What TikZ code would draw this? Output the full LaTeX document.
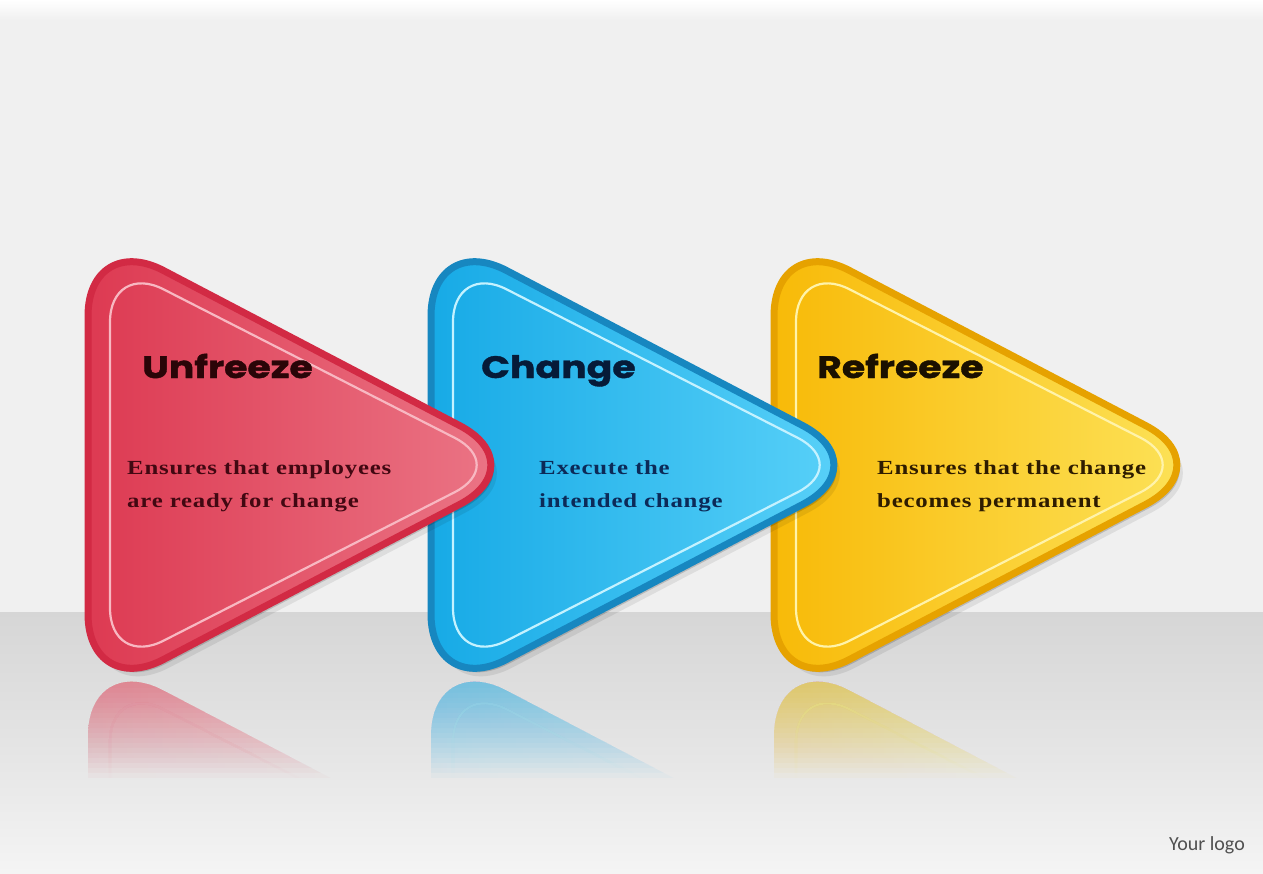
\documentclass[tikz,border=0pt]{standalone}
\usepackage{fontspec}
\setmainfont{Liberation Serif}
\newfontfamily\headfont{Poppins}[FakeStretch=1.22, FakeBold=1.2]
\newfontfamily\descfont{Liberation Serif}[FakeStretch=1.24, LetterSpace=4]
\newfontfamily\logofont{Carlito}
\definecolor{bgmain}{HTML}{F0F0F0}
\definecolor{floorA}{HTML}{D6D6D6}
\definecolor{floorM}{HTML}{E4E4E4}
\definecolor{floorB}{HTML}{F4F4F4}
\definecolor{redR}{HTML}{D22A44}
\definecolor{redA}{HTML}{DD3A52}
\definecolor{redB}{HTML}{EC7A8A}
\definecolor{redL}{HTML}{F8B8C2}
\definecolor{bluR}{HTML}{1787C0}
\definecolor{bluA}{HTML}{17AAE6}
\definecolor{bluB}{HTML}{5ED4FA}
\definecolor{bluL}{HTML}{C4F2FF}
\definecolor{yelR}{HTML}{E6A200}
\definecolor{yelA}{HTML}{F8BA08}
\definecolor{yelB}{HTML}{FDE55E}
\definecolor{yelL}{HTML}{FFF3AA}
\definecolor{redT}{HTML}{2A0508}
\definecolor{redD}{HTML}{420812}
\definecolor{bluT}{HTML}{061B38}
\definecolor{bluD}{HTML}{0C2A58}
\definecolor{yelT}{HTML}{1A1000}
\definecolor{yelD}{HTML}{2E1C00}
\definecolor{logoC}{HTML}{505050}
\begin{document}
\begin{tikzpicture}[x=1pt,y=-1pt,line join=round,
  head/.style={font=\headfont\bfseries\fontsize{31}{31}\selectfont, inner sep=0pt, anchor=base west},
  desc/.style={font=\descfont\bfseries\fontsize{20}{20}\selectfont, inner sep=0pt, anchor=base west},
  logostyle/.style={font=\logofont\fontsize{20}{20}\selectfont, text=logoC, inner sep=0pt, anchor=base east},
  outerR/.style={rounded corners=85},
  innerR/.style={rounded corners=60}]
\useasboundingbox (0,0) rectangle (1263,873);
% background
\fill[bgmain] (0,0) rectangle (1263,612);
\shade[top color=white, bottom color=bgmain] (0,0) rectangle (1263,20);
\shade[top color=floorA, bottom color=floorB, middle color=floorM] (0,612) rectangle (1263,873);
% reflections: stacked translucent layers, each clipped a little lower
\foreach \k in {0,...,19} {
  \begin{scope}
    \clip (0,676) rectangle (1263,682+5*\k);
    \foreach \dx/\cA/\cB/\cL in {0/redA/redB/redL, 343/bluA/bluB/bluL, 686/yelA/yelB/yelL} {
      \begin{scope}[shift={(0,1350)}, yscale=-1, opacity=0.034]
        \shade[left color=\cA, right color=\cB, outerR]
          (88+\dx,465) -- (88+\dx,231) -- (535+\dx,465) -- (88+\dx,699) -- cycle;
        \draw[\cL, line width=2.2, innerR]
          (110+\dx,465) -- (110+\dx,262) -- (508+\dx,465) -- (110+\dx,668) -- cycle;
      \end{scope}
    }
  \end{scope}
}
% shapes (back to front)
\foreach \dx/\cA/\cB/\cR/\cL in {686/yelA/yelB/yelR/yelL, 343/bluA/bluB/bluR/bluL, 0/redA/redB/redR/redL} {
  \begin{scope}[shift={(6,8)}]
    \fill[black, opacity=0.08, outerR]
      (88+\dx,465) -- (88+\dx,231) -- (535+\dx,465) -- (88+\dx,699) -- cycle;
  \end{scope}
  \begin{scope}[shift={(3,4)}]
    \fill[black, opacity=0.16, outerR]
      (88+\dx,465) -- (88+\dx,231) -- (535+\dx,465) -- (88+\dx,699) -- cycle;
  \end{scope}
  \path[draw=\cR, line width=7, left color=\cA, right color=\cB, outerR]
    (88+\dx,465) -- (88+\dx,231) -- (535+\dx,465) -- (88+\dx,699) -- cycle;
  \draw[\cL, line width=2.2, innerR]
    (110+\dx,465) -- (110+\dx,262) -- (508+\dx,465) -- (110+\dx,668) -- cycle;
}
% texts
\node[head, text=redT] (t1) at (142,378) {Unfreeze};
\node[desc, text=redD] (d1a) at (127,474) {Ensures that employees};
\node[desc, text=redD] (d1b) at (127,507) {are ready for change};
\node[head, text=bluT] (t2) at (481,378) {Change};
\node[desc, text=bluD] (d2a) at (539,474) {Execute the};
\node[desc, text=bluD] (d2b) at (539,507) {intended change};
\node[head, text=yelT] (t3) at (817,378) {Refreeze};
\node[desc, text=yelD] (d3a) at (877,474) {Ensures that the change};
\node[desc, text=yelD] (d3b) at (877,507) {becomes permanent};
\node[logostyle] (logo) at (1245,850) {Your logo};
\end{tikzpicture}
\end{document}
